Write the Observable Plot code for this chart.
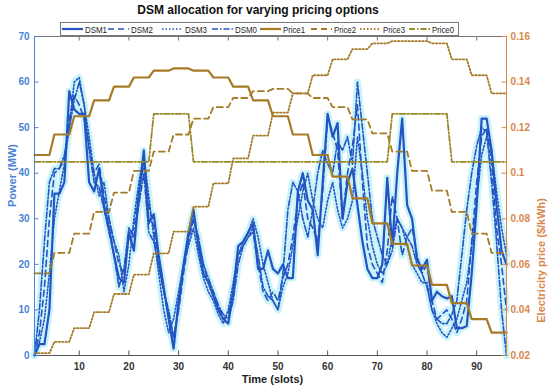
<!DOCTYPE html>
<html><head><meta charset="utf-8">
<script src="https://cdn.jsdelivr.net/npm/d3@7"></script>
<script src="https://cdn.jsdelivr.net/npm/@observablehq/plot@0.6"></script>
<style>
html,body{margin:0;padding:0;background:#fff;font-family:"Liberation Sans",Arial,sans-serif;}
#wrap{position:relative;width:550px;height:392px;overflow:hidden;background:#fff;}
#hdrbox{height:22px;}
#hdrbox svg, #plotbox svg{display:block;}
#legendbox{position:absolute;left:60px;top:22px;}
</style></head><body>
<div id="wrap"><div id="hdrbox"></div><div id="plotbox"></div><div id="legendbox"></div></div>
<script>
// ---- data ----
const chartTitle = "DSM allocation for varying pricing options";
const slotCount = 96;
const xTicks = [10,20,30,40,50,60,70,80,90];
const powerTicks = [0,10,20,30,40,50,60,70];
const priceTicks = [0.02,0.04,0.06,0.08,0.1,0.12,0.14,0.16];

const dsm1 = [0,2.5,2.5,10,35.5,35.5,38,58,54,53, 53,38,36,41,33,28,22,17,16,27, 23,35,45,29,31,22,15,8,1.5,12, 20,27,32,24,18,16,13,10,8,7, 14,24,25,27,29,19,19,23,19,18, 20,17,17,36,40,34,32,22,38,53, 48,51,30,38,41,33,25,19,17,17, 20,39,24,40,52,33,30,21,19,21, 12,14,13,12.5,13,6,6,6.5,18,33, 52,52,45,33,23,20];
const dsm2 = [0,5,15,30,40,41,43,52,57,55, 52,46,40,42,35,30,25,20,18,26, 28,36,42,33,28,20,14,9,4,10, 18,25,30,25,20,16,14,11,8,9, 14,22,24,26,27,20,14,12,14,12, 17,20,26,34,38,30,28,25,36,52, 49,45,30,40,46,55,38,24,20,18, 16,23,35,30,22,26,28,22,18,20, 12,8,9,10,8,5,8,12,25,38, 48,50,42,28,20,10];
const dsm3 = [0,3,8,18,30,36,42,50,60,61, 55,48,40,35,38,30,25,22,14,20, 30,38,44,35,26,18,10,5,8,14, 20,24,28,22,17,14,12,9,7,10, 16,22,25,27,30,26,20,16,12,10, 15,18,24,30,36,40,34,30,28,34, 38,32,28,30,34,48,40,30,24,20, 18,20,26,30,28,24,20,18,16,16, 10,7,5,4,6,8,12,16,24,34, 44,48,45,36,28,22];
const dsm0 = [0,10,25,38,41,41,44,50,56,60, 55,45,38,37,32,27,22,15,19,28, 26,33,40,27,25,20,14,10,4,10, 19,26,30,26,20,17,14,11,9,8, 12,20,24,26,28,22,15,13,12,10, 18,32,38,36,30,26,32,40,45,42, 40,47,45,48,42,60,50,40,30,26, 22,20,23,30,28,26,24,20,18,15, 10,8,7,7,9,12,22,32,40,46, 50,49,38,25,10,0];

// hourly prices ($/kWh), each hour = 4 slots
const price1 = [0.108,0.117,0.125,0.132,0.138,0.142,0.145,0.146,0.145,0.142,0.138,0.132,0.125,0.117,0.108,0.0985,0.089,0.078,0.069,0.0595,0.051,0.043,0.036,0.030];
const price2 = [0.056,0.065,0.0735,0.083,0.0915,0.101,0.1095,0.117,0.124,0.129,0.133,0.136,0.137,0.135,0.133,0.129,0.1236,0.1175,0.1095,0.101,0.0924,0.083,0.0735,0.065];
const price3 = [0.021,0.026,0.032,0.039,0.047,0.0555,0.0648,0.0744,0.0853,0.0955,0.1065,0.1165,0.1266,0.135,0.143,0.150,0.1545,0.157,0.158,0.158,0.157,0.150,0.143,0.135];
const price0 = [0.105,0.105,0.105,0.105,0.105,0.105,0.126,0.126,0.105,0.105,0.105,0.105,0.105,0.105,0.105,0.105,0.105,0.105,0.126,0.126,0.126,0.105,0.105,0.105];

const blue = "#2453c2", halo = "#c9f3f9", brown = "#a67a27", olive = "#9a8a26";
const leftCol = "#4a82d4", rightCol = "#d9874a";
const dsmSeries = [
  {name:"DSM1", values:dsm1, dash:null, w:2.2},
  {name:"DSM2", values:dsm2, dash:"6,4", w:1.6},
  {name:"DSM3", values:dsm3, dash:"1.5,2", w:1.6},
  {name:"DSM0", values:dsm0, dash:"6,2,1.5,2", w:1.6}
];
const priceSeries = [
  {name:"Price1", values:price1, dash:null, w:2.2, c:brown},
  {name:"Price2", values:price2, dash:"6,4", w:1.8, c:brown},
  {name:"Price3", values:price3, dash:"1.5,2", w:1.8, c:brown},
  {name:"Price0", values:price0, dash:"6,2,1.5,2", w:1.8, c:olive}
];
// price -> left-axis units (0.02..0.16 shares the 0..70 frame)
const toY = p => (p - 0.02) * 500;

const dsmRows = dsmSeries.flatMap(s => s.values.map((v,i) => ({series:s.name, slot:i+1, v})));
const priceRows = s => s.values.flatMap((p,h) => [0,1,2,3].map(k => ({slot:h*4+k+1, p})));

const font = '"Liberation Sans",Arial,sans-serif';

// title (above the plot SVG)
d3.select("#hdrbox").append("svg").attr("width",550).attr("height",22)
  .append("text").attr("x",258).attr("y",14).attr("text-anchor","middle")
  .attr("font-family",font).attr("font-size",12).attr("font-weight","bold").attr("fill","#111").text(chartTitle);

const plotMarks = [
  Plot.line(dsmRows, {x:"slot", y:"v", z:"series", stroke:halo, strokeWidth:7, strokeLinejoin:"round"}),
  ...dsmSeries.map(s => Plot.line(dsmRows.filter(d => d.series === s.name), {x:"slot", y:"v", stroke:blue, strokeWidth:s.w, strokeDasharray:s.dash})),
  ...priceSeries.map(s => Plot.line(priceRows(s), {x:"slot", y:d => toY(d.p), stroke:s.c, strokeWidth:s.w, strokeDasharray:s.dash})),
  // frame
  Plot.ruleY([0], {stroke:"#555"}),
  Plot.ruleY([70], {stroke:"#777"}),
  Plot.ruleX([1], {stroke:leftCol}),
  Plot.ruleX([96], {stroke:rightCol}),
  // inward ticks
  Plot.ruleX(xTicks, {y1:0, y2:1, stroke:"#555"}),
  Plot.ruleX(xTicks, {y1:69, y2:70, stroke:"#777"}),
  Plot.ruleY(powerTicks, {x1:1, x2:1.9, stroke:leftCol}),
  Plot.ruleY(powerTicks, {x1:95.1, x2:96, stroke:rightCol}),
  // axes
  Plot.axisX(xTicks, {tickSize:0, tickPadding:7, fill:"#333", fontSize:10, fontWeight:"bold", label:null}),
  Plot.axisY(powerTicks, {anchor:"left", tickSize:0, tickPadding:5, fill:leftCol, fontSize:10, fontWeight:"bold", label:null}),
  Plot.axisY(priceTicks.map(toY), {anchor:"right", tickSize:0, tickPadding:4, fill:rightCol, fontSize:10, fontWeight:"bold", label:null,
    tickFormat: y => String(+(y/500 + 0.02).toFixed(2))}),
  Plot.text(["Time (slots)"], {text:d => d, frameAnchor:"bottom", dy:27, dx:2, fontSize:11, fontWeight:"bold", fill:"#222"}),
  Plot.text(["Power (MW)"], {text:d => d, frameAnchor:"left", rotate:-90, dx:-22, dy:11, fontSize:11, fontWeight:"bold", fill:leftCol}),
  Plot.text(["Electricity price ($/kWh)"], {text:d => d, frameAnchor:"right", rotate:-90, dx:35, dy:2, fontSize:11, fontWeight:"bold", fill:rightCol})
];

const svgPlot = Plot.plot({
  width:550, height:370, marginTop:14, marginBottom:37, marginLeft:34, marginRight:44,
  x:{domain:[1,slotCount]}, y:{domain:[0,70]},
  style:{fontFamily:font, background:"transparent", overflow:"visible"},
  marks: plotMarks
});
document.getElementById("plotbox").appendChild(svgPlot);

// legend (HTML-level, above the plot)
const legendItems = [...dsmSeries.map(s => ({...s, c:blue})), ...priceSeries];
const lw = 399, lh = 14;
const lsvg = d3.select("#legendbox").append("svg").attr("width", lw + 4).attr("height", lh).style("font-family", font).style("overflow","visible");
lsvg.append("rect").attr("x",0.5).attr("y",0.5).attr("width",lw-1).attr("height",lh-1).attr("fill","#fff").attr("stroke","#777");
const itemX = [2,48,102,152,200,251,300,349];
legendItems.forEach((s,i) => {
  const g = lsvg.append("g").attr("transform", `translate(${itemX[i]},0)`);
  g.append("line").attr("x1",0).attr("x2",21).attr("y1",7).attr("y2",7).attr("stroke",s.c).attr("stroke-width",s.w).attr("stroke-dasharray",s.dash);
  g.append("text").attr("x",23).attr("y",10.5).attr("font-size",9.5).attr("textLength",22).attr("lengthAdjust","spacingAndGlyphs").attr("fill","#222").text(s.name);
});
</script></body></html>
